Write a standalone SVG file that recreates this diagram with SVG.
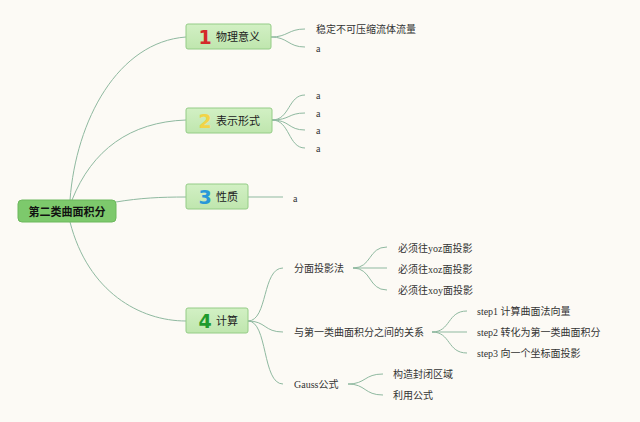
<svg xmlns="http://www.w3.org/2000/svg" width="640" height="422" viewBox="0 0 640 422">
<defs>
<linearGradient id="g" x1="0" y1="0" x2="0" y2="1">
<stop offset="0" stop-color="#d2f0c4"/>
<stop offset="1" stop-color="#bfe6ae"/>
</linearGradient>
</defs>
<style>
.bg{fill:#fcfaf5}
.c{fill:none;stroke:#8fb9a0;stroke-width:1}
.box{fill:url(#g);stroke:#94cc86;stroke-width:1}
.root{fill:#7dc96c;stroke:#6cb85c;stroke-width:1}
.num{font-family:"DejaVu Sans","Liberation Sans",sans-serif;font-weight:bold;font-size:19px}
.nl{font-family:"Noto Sans CJK SC",sans-serif;font-size:11px;fill:#222}
.rt{font-family:"Noto Sans CJK SC",sans-serif;font-size:11px;font-weight:bold;fill:#111}
.t{font-family:"Liberation Serif","Noto Sans CJK SC",serif;font-size:10px;fill:#333}
</style>
<rect class="bg" x="0" y="0" width="640" height="422"/>
<g id="connectors">
<path class="c" d="M70,200 C76,120 118,42 186,37"/>
<path class="c" d="M72,200 C92,150 130,122 186,120"/>
<path class="c" d="M116,202 C140,198 160,197 186,197"/>
<path class="c" d="M70,222 C88,292 140,321 186,321"/>
<path class="c" d="M271,37 C288,37 288,29 305,29"/>
<path class="c" d="M271,37 C288,37 288,47 305,47"/>
<path class="c" d="M272,120 C290,120 288,95 305,95"/>
<path class="c" d="M272,120 C290,120 288,113 305,113"/>
<path class="c" d="M272,120 C290,120 288,130 305,130"/>
<path class="c" d="M272,120 C290,120 288,148 305,148"/>
<path class="c" d="M248,197 L283,197"/>
<path class="c" d="M248,321 C268,321 262,268 283,268"/>
<path class="c" d="M248,321 C266,321 264,332 283,332"/>
<path class="c" d="M248,321 C268,321 262,384 283,384"/>
<path class="c" d="M353,268 C372,268 368,247 387,247"/>
<path class="c" d="M353,268 L387,268"/>
<path class="c" d="M353,268 C372,268 368,290 387,290"/>
<path class="c" d="M432,332 C451,332 447,311 467,311"/>
<path class="c" d="M432,332 L467,332"/>
<path class="c" d="M432,332 C451,332 447,353 467,353"/>
<path class="c" d="M348,384 C366,384 364,374 383,374"/>
<path class="c" d="M348,384 C366,384 364,395 383,395"/>
</g>
<g id="root">
<rect class="root" x="18" y="200" width="98" height="22" rx="4"/>
<text class="rt" x="67" y="215.5" text-anchor="middle">第二类曲面积分</text>
</g>
<g id="node1">
<rect class="box" x="186" y="24" width="85" height="25" rx="2"/>
<text class="num" x="205" y="44" text-anchor="middle" fill="#d42a2a">1</text>
<text class="nl" x="216" y="40.5">物理意义</text>
</g>
<g id="node2">
<rect class="box" x="186" y="108" width="86" height="25" rx="2"/>
<text class="num" x="205" y="128" text-anchor="middle" fill="#f2d447">2</text>
<text class="nl" x="216" y="124.5">表示形式</text>
</g>
<g id="node3">
<rect class="box" x="186" y="184" width="62" height="25" rx="2"/>
<text class="num" x="205" y="204" text-anchor="middle" fill="#2898d8">3</text>
<text class="nl" x="216" y="200.5">性质</text>
</g>
<g id="node4">
<rect class="box" x="186" y="308" width="62" height="25" rx="2"/>
<text class="num" x="205" y="328" text-anchor="middle" fill="#1f9a2c">4</text>
<text class="nl" x="216" y="324.5">计算</text>
</g>
<g id="leaves1">
<text class="t" x="316" y="32.5">稳定不可压缩流体流量</text>
<text class="t" x="316" y="51.5">a</text>
</g>
<g id="leaves2">
<text class="t" x="316" y="98.5">a</text>
<text class="t" x="316" y="116.5">a</text>
<text class="t" x="316" y="133.5">a</text>
<text class="t" x="316" y="151.5">a</text>
</g>
<g id="leaves3">
<text class="t" x="293" y="201.5">a</text>
</g>
<g id="calc">
<text class="t" x="294" y="272">分面投影法</text>
<text class="t" x="294" y="335.5">与第一类曲面积分之间的关系</text>
<text class="t" x="294" y="387.5">Gauss公式</text>
</g>
<g id="proj">
<text class="t" x="398" y="251.5">必须往yoz面投影</text>
<text class="t" x="398" y="272.5">必须往xoz面投影</text>
<text class="t" x="398" y="293.5">必须往xoy面投影</text>
</g>
<g id="steps">
<text class="t" x="477" y="314.5">step1 计算曲面法向量</text>
<text class="t" x="477" y="335.5">step2 转化为第一类曲面积分</text>
<text class="t" x="477" y="356.5">step3 向一个坐标面投影</text>
</g>
<g id="gauss">
<text class="t" x="393" y="377.5">构造封闭区域</text>
<text class="t" x="393" y="398.5">利用公式</text>
</g>
</svg>
